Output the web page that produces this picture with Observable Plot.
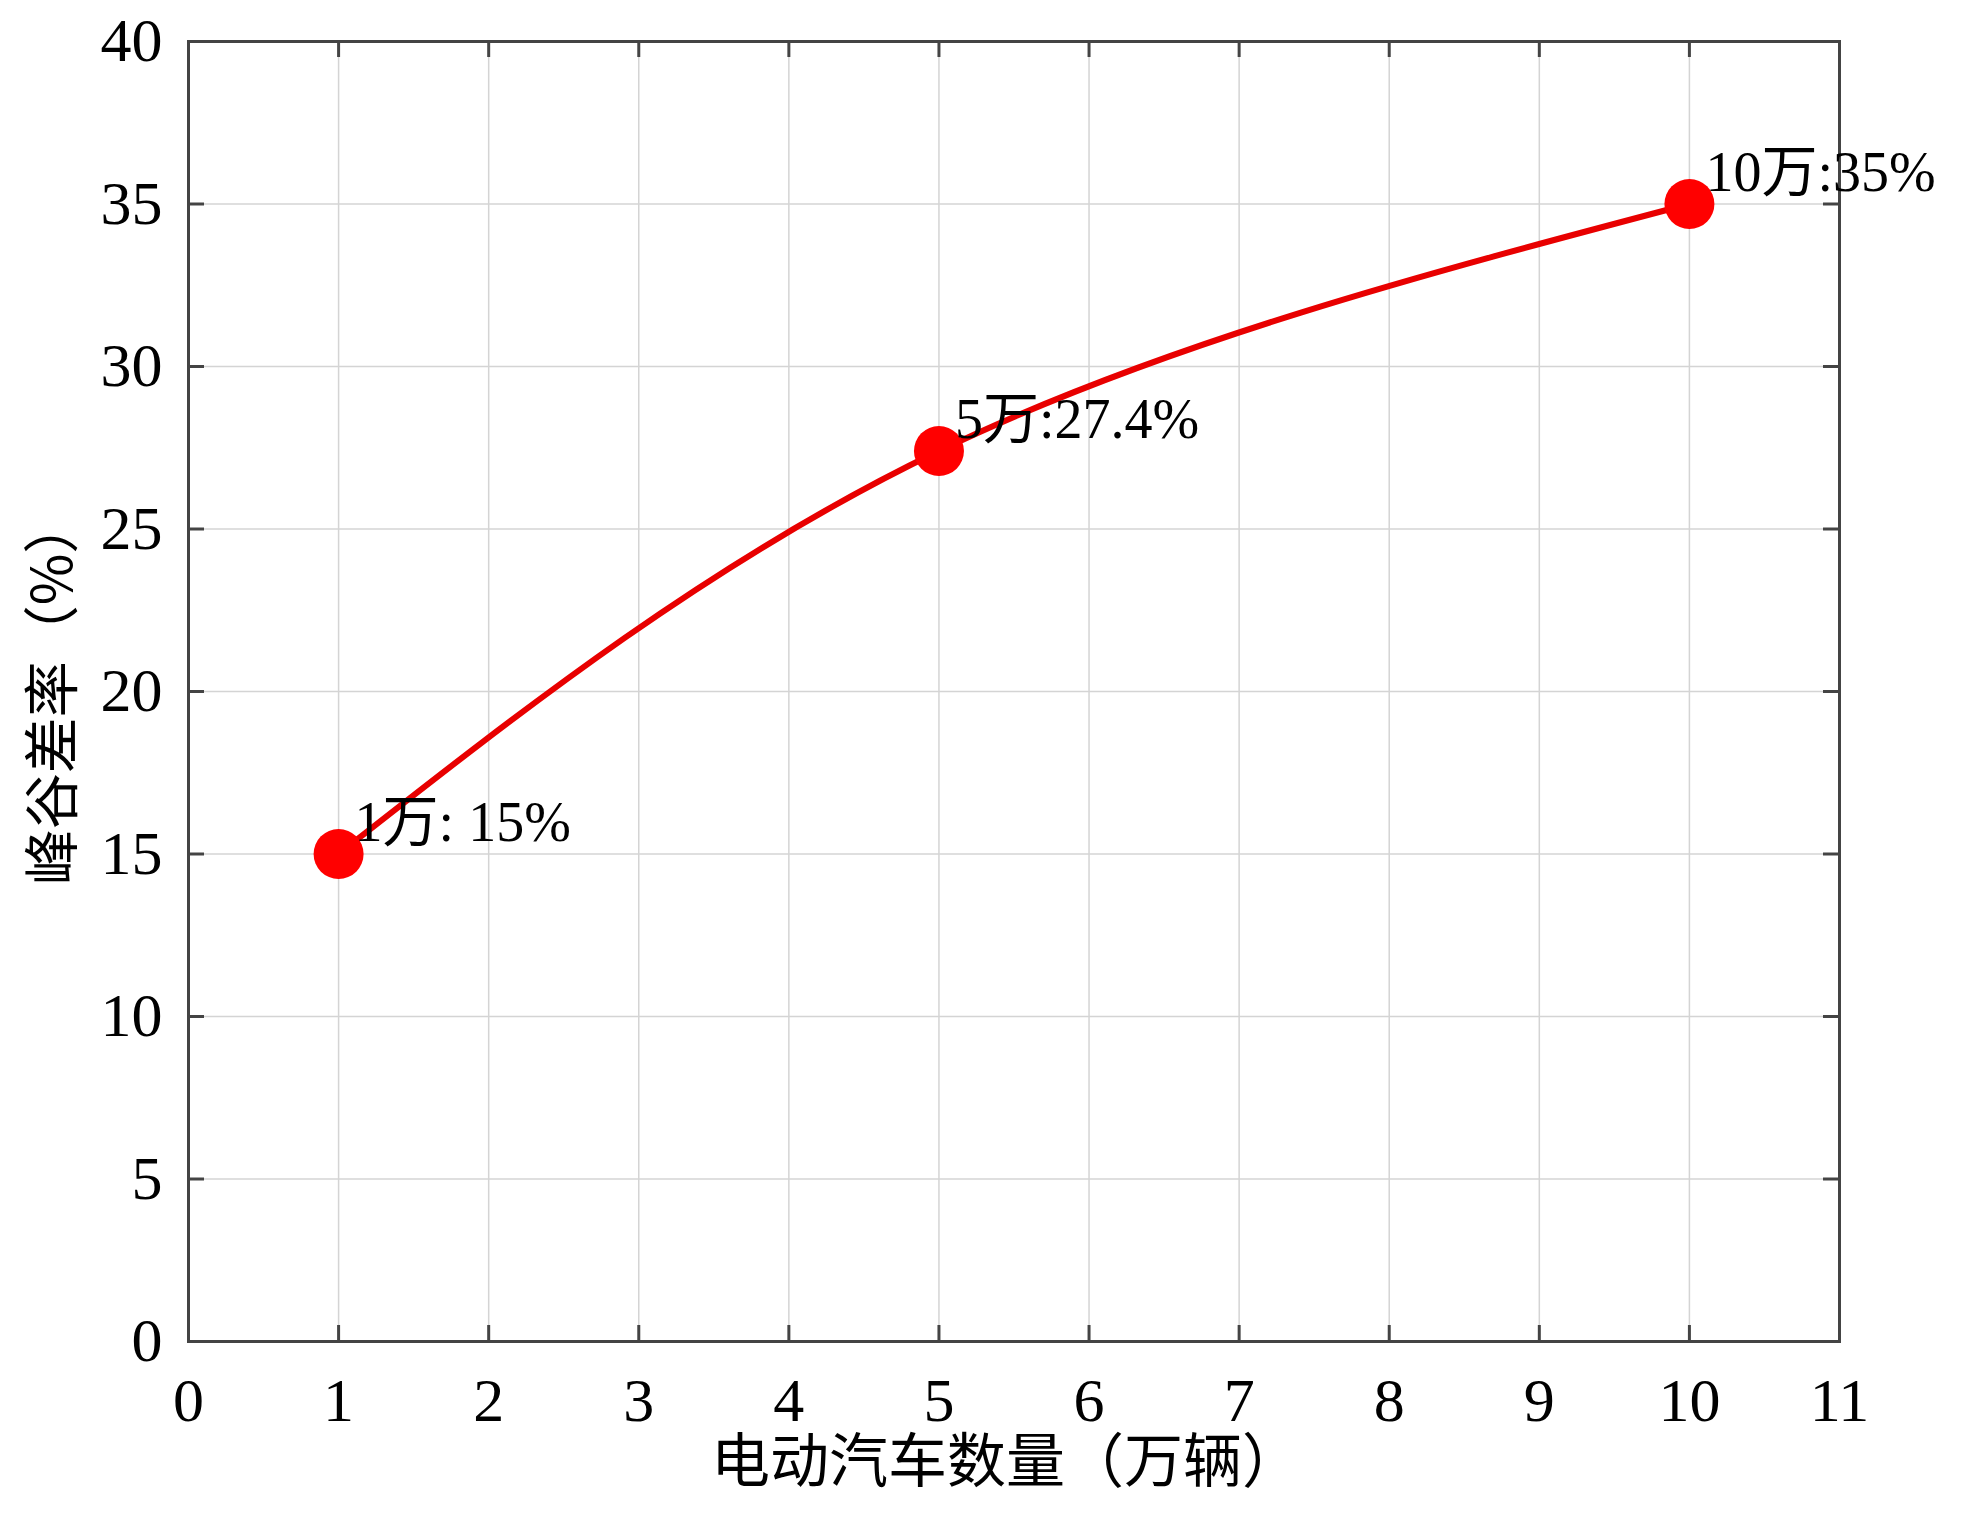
<!DOCTYPE html>
<html><head><meta charset="utf-8">
<script src="https://cdn.jsdelivr.net/npm/d3@7"></script>
<script src="https://cdn.jsdelivr.net/npm/@observablehq/plot@0.6"></script>
<style>body{margin:0;background:#fff} svg{display:block}</style>
</head><body><div id="chart"></div>
<script>
const evCount = [1, 5, 10];
const peakValleyRate = [15, 27.4, 35];
const pointLabels = ["1万: 15%", "5万:27.4%", "10万:35%"];
const xTicks = [0, 1, 2, 3, 4, 5, 6, 7, 8, 9, 10, 11];
const yTicks = [0, 5, 10, 15, 20, 25, 30, 35, 40];
const xLabel = "电动汽车数量（万辆）";
const yLabel = "峰谷差率（%）";

const data = evCount.map((x, i) => ({x, y: peakValleyRate[i], label: pointLabels[i]}));
const serif = "'Times New Roman','Liberation Serif','Noto Sans CJK SC',serif";
const cjk = "'Noto Sans CJK SC','Liberation Serif',sans-serif";
const frameColor = "#444";

const chart = Plot.plot({
  width: 1969, height: 1520,
  marginLeft: 188, marginRight: 130, marginTop: 41, marginBottom: 179,
  x: {domain: [0, 11]},
  y: {domain: [0, 40]},
  style: {fontFamily: serif, background: "#fff", color: "#000"},
  marks: [
    Plot.gridX(xTicks, {stroke: "#d4d4d4", strokeOpacity: 1, strokeWidth: 1.5}),
    Plot.gridY(yTicks, {stroke: "#d4d4d4", strokeOpacity: 1, strokeWidth: 1.5}),
    Plot.ruleX(xTicks, {x: d => d, insetTop: 1284, stroke: frameColor, strokeWidth: 3}),
    Plot.ruleX(xTicks, {x: d => d, insetBottom: 1284, stroke: frameColor, strokeWidth: 3}),
    Plot.ruleY(yTicks, {y: d => d, insetRight: 1635, stroke: frameColor, strokeWidth: 3}),
    Plot.ruleY(yTicks, {y: d => d, insetLeft: 1635, stroke: frameColor, strokeWidth: 3}),
    Plot.frame({stroke: frameColor, strokeWidth: 3}),
    Plot.axisX(xTicks, {tickSize: 0, tickPadding: 35, fontSize: 62, label: null, fill: "#000", tickFormat: d => String(d), fontFamily: serif}),
    Plot.axisY(yTicks, {tickSize: 0, tickPadding: 26, fontSize: 62, label: null, fill: "#000", tickFormat: d => String(d), fontFamily: serif}),
    Plot.line(data, {x: "x", y: "y", curve: "natural", stroke: "#e80000", strokeWidth: 6}),
    Plot.dot(data, {x: "x", y: "y", r: 25, fill: "#ff0000", stroke: "none"}),
    Plot.text(data, {x: "x", y: "y", text: "label", textAnchor: "start", lineAnchor: "middle",
      dx: 16, dy: -31, fontSize: 56, fill: "#000", fontFamily: serif}),
    Plot.text([xLabel], {frameAnchor: "bottom", text: d => d, lineAnchor: "middle", textAnchor: "middle",
      dx: -8, dy: 122, fontSize: 59, fontFamily: cjk, fill: "#000"}),
    Plot.text([yLabel], {frameAnchor: "left", text: d => d, rotate: -90, lineAnchor: "middle", textAnchor: "middle",
      dx: -134, dy: 0, fontSize: 56, fontFamily: cjk, fill: "#000"})
  ]
});
document.getElementById("chart").append(chart);
</script>
</body></html>
